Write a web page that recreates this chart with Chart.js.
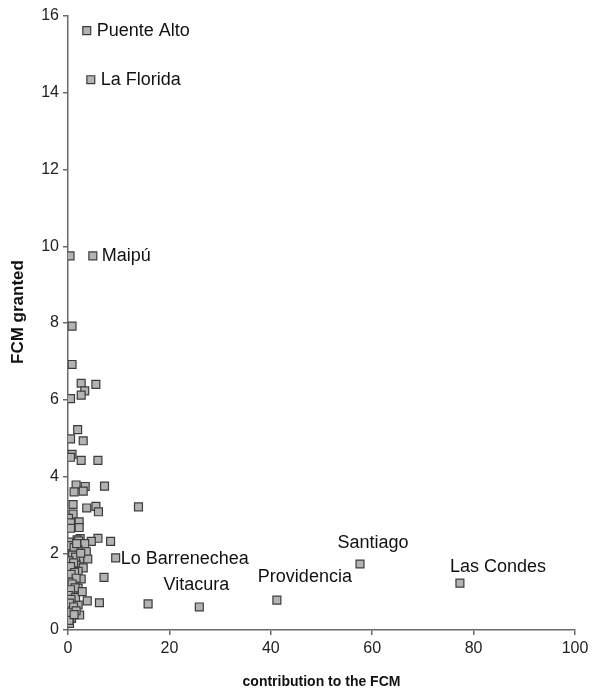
<!DOCTYPE html>
<html>
<head>
<meta charset="utf-8">
<script src="https://cdn.jsdelivr.net/npm/chart.js@4"></script>
<style>
  html, body { margin: 0; padding: 0; background: #fff; }
  #wrap { width: 595px; height: 689px; position: relative; }
</style>
</head>
<body>
<div id="wrap"><canvas id="myChart"></canvas></div>
<script>
// municipalities: contribution to the fund vs. amount received
const names = [
  'Puente Alto', 'La Florida', 'Maipú', 'Lo Barrenechea',
  'Vitacura', 'Providencia', 'Santiago', 'Las Condes'
];
const namedContribution = [3.7, 4.5, 4.9, 9.4, 25.9, 41.2, 57.6, 77.3];
const namedGranted = [15.62, 14.34, 9.75, 1.88, 0.60, 0.78, 1.72, 1.22];

const otherContribution = [
  0.4, 0.8, 0.8, 2.6, 5.5, 3.3, 2.6, 0.5, 1.9, 0.5, 3.0, 0.8, 0.5, 2.6, 5.9,
  1.6, 3.4, 7.2, 1.2, 3.0, 1.0, 3.7, 5.5, 6.0, 13.9, 1.0, 0.1, 0.5, 2.2, 2.2,
  0.5, 2.4, 5.9, 4.6, 8.4, 1.8, 0.3, 2.1, 3.3, 0.6, 2.0, 3.6, 0.0, 2.3, 0.7,
  3.9, 0.0, 1.6, 3.0, 0.3, 2.0, 0.0, 7.1, 2.6, 1.0, 0.3, 2.0, 0.0, 1.0, 3.8,
  6.2, 15.8, 0.0, 2.0, 0.0, 0.7, 2.3, 0.0, 0.7, 0.3,
  0.4, 1.2, 0.9, 1.5, 0.2, 1.1, 0.5, 1.3, 0.6, 1.6, 0.2, 0.8, 1.4, 0.5, 0.2,
  1.5, 0.6, 0.3, 1.1, 0.4, 1.6, 0.2, 2.8, 2.5, 1.7, 1.2
];
const otherGranted = [
  9.75, 7.92, 6.92, 6.43, 6.40, 6.23, 6.12, 6.03, 5.22, 4.98, 4.93, 4.58, 4.50, 4.42, 4.42,
  3.78, 3.74, 3.75, 3.60, 3.62, 3.27, 3.18, 3.22, 3.08, 3.21, 3.02, 2.91, 2.79, 2.82, 2.67,
  2.65, 2.38, 2.39, 2.31, 2.31, 2.35, 2.29, 2.32, 2.25, 2.08, 2.08, 2.04, 2.00, 1.85, 1.85,
  1.85, 1.71, 1.70, 1.62, 1.58, 1.53, 1.41, 1.37, 1.33, 1.28, 1.15, 1.09, 1.00, 0.91, 0.76,
  0.71, 0.68, 0.78, 0.65, 0.61, 0.52, 0.39, 0.39, 0.30, 0.17,
  2.20, 2.15, 1.95, 1.90, 1.80, 1.75, 1.65, 1.50, 1.45, 1.35, 1.25, 1.20, 1.10, 1.05, 0.90,
  0.85, 0.80, 0.70, 0.60, 0.45, 0.50, 0.25, 1.00, 2.00, 2.25, 0.40
];

const xTicks = [0, 20, 40, 60, 80, 100];
const yTicks = [0, 2, 4, 6, 8, 10, 12, 14, 16];

// where each name sits relative to its marker
const labelPlace = {
  'Puente Alto':    { dx: 10, dy: 0,   align: 'left' },
  'La Florida':     { dx: 10, dy: 0,   align: 'left' },
  'Maipú':          { dx: 9,  dy: 0,   align: 'left' },
  'Lo Barrenechea': { dx: 5,  dy: 1,   align: 'left' },
  'Vitacura':       { dx: -3, dy: -22, align: 'center' },
  'Providencia':    { dx: 28, dy: -23, align: 'center' },
  'Santiago':       { dx: 13, dy: -21, align: 'center' },
  'Las Condes':     { dx: 38, dy: -16, align: 'center' }
};

const FONT = "'Liberation Sans', Arial, Helvetica, sans-serif";
const axisColor = '#6a6a6a';

const toPoints = (xs, ys) => xs.map((x, i) => ({ x: x, y: ys[i] }));

const pointLabels = {
  id: 'pointLabels',
  afterDatasetsDraw(chart) {
    const ctx = chart.ctx;
    const meta = chart.getDatasetMeta(1);
    ctx.save();
    ctx.font = '18px ' + FONT;
    ctx.fillStyle = '#111';
    ctx.textBaseline = 'middle';
    names.forEach((name, i) => {
      const el = meta.data[i];
      const p = labelPlace[name];
      ctx.textAlign = p.align;
      ctx.fillText(name, el.x + p.dx, el.y + p.dy);
    });
    ctx.restore();
  }
};

// y title sits a little above the middle of the axis
const yTitle = {
  id: 'yTitle',
  afterDraw(chart) {
    const ctx = chart.ctx;
    const area = chart.chartArea;
    ctx.save();
    ctx.translate(18, (area.top + area.bottom) / 2 - 11);
    ctx.rotate(-Math.PI / 2);
    ctx.font = 'bold 17px ' + FONT;
    ctx.fillStyle = '#111';
    ctx.textAlign = 'center';
    ctx.textBaseline = 'middle';
    ctx.fillText('FCM granted', 0, 0);
    ctx.restore();
  }
};

const markerStyle = {
  pointStyle: 'rect',
  pointRadius: 5.6,
  pointBackgroundColor: '#b3b3b3',
  pointBorderColor: '#3c3c3c',
  pointBorderWidth: 1.2,
  showLine: false
};

const ctx = document.getElementById('myChart');

new Chart(ctx, {
  type: 'scatter',
  data: {
    datasets: [
      Object.assign({ data: toPoints(otherContribution, otherGranted) }, markerStyle),
      Object.assign({ data: toPoints(namedContribution, namedGranted) }, markerStyle)
    ]
  },
  options: {
    responsive: true,
    maintainAspectRatio: false,
    animation: false,
    layout: { padding: { left: 0, right: 20, top: 16, bottom: 0 } },
    plugins: {
      legend: { display: false },
      tooltip: { enabled: false }
    },
    scales: {
      x: {
        type: 'linear',
        min: 0,
        max: 100,
        afterFit(scale) { scale.height = 59; },
        afterBuildTicks(scale) { scale.ticks = xTicks.map(v => ({ value: v })); },
        border: { display: true, color: axisColor, width: 1.5 },
        grid: { drawOnChartArea: false, color: axisColor, tickLength: 5, lineWidth: 1.5 },
        ticks: { color: '#222', padding: 4, font: { family: FONT, size: 16 } },
        title: {
          display: true,
          text: 'contribution to the FCM',
          color: '#111',
          font: { family: FONT, size: 14, weight: 'bold' },
          padding: { top: 0, bottom: -2 }
        }
      },
      y: {
        type: 'linear',
        min: 0,
        max: 16,
        afterFit(scale) { scale.width = 68; },
        afterBuildTicks(scale) { scale.ticks = yTicks.map(v => ({ value: v })); },
        border: { display: true, color: axisColor, width: 1.5 },
        grid: { drawOnChartArea: false, color: axisColor, tickLength: 5, lineWidth: 1.5 },
        ticks: { color: '#222', padding: 4, font: { family: FONT, size: 16 } }
      }
    }
  },
  plugins: [pointLabels, yTitle]
});
</script>
</body>
</html>
